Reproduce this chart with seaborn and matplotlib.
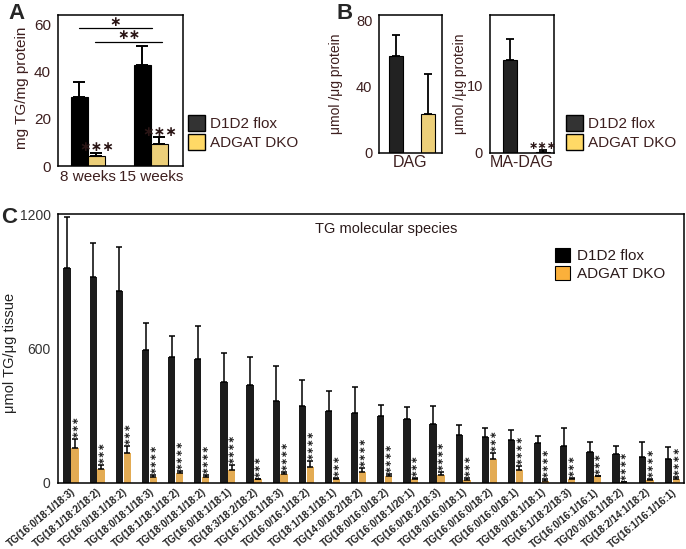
import numpy as np
import pandas as pd
import seaborn as sns
import matplotlib.pyplot as plt
from matplotlib.patches import Patch

sns.set_theme(style="white")
plt.rcParams['font.family'] = ['Liberation Sans', 'DejaVu Sans']

# ---- data ----
groups = ['D1D2 flox', 'ADGAT DKO']

# panel A: TG content
weeks = ['8 weeks', '15 weeks']
tg_flox = [29.2, 42.6]
tg_flox_err = [6.1, 8.2]
tg_dko = [4.3, 9.2]
tg_dko_err = [1.3, 2.9]

# panel B
dag_vals = [58.7, 23.7]
dag_err = [12.6, 23.9]
madag_vals = [13.75, 0.15]
madag_err = [3.15, 0.25]

# panel C: TG molecular species
species = ['TG(16:0/18:1/18:3)', 'TG(18:1/18:2/18:2)', 'TG(16:0/18:1/18:2)',
           'TG(18:0/18:1/18:3)', 'TG(18:1/18:1/18:2)', 'TG(18:0/18:1/18:2)',
           'TG(16:0/18:1/18:1)', 'TG(18:3/18:2/18:2)', 'TG(16:1/18:1/18:3)',
           'TG(16:0/16:1/18:2)', 'TG(18:1/18:1/18:1)', 'TG(14:0/18:2/18:2)',
           'TG(18:0/16:0/18:2)', 'TG(16:0/18:1/20:1)', 'TG(16:0/18:2/18:3)',
           'TG(18:0/16:0/18:1)', 'TG(16:0/16:0/18:2)', 'TG(16:0/16:0/18:1)',
           'TG(18:0/18:1/18:1)', 'TG(16:1/18:2/18:3)', 'TG(16:0/16:1/16:1)',
           'TG(20:0/18:1/18:2)', 'TG(18:2/14:1/18:2)', 'TG(16:1/16:1/16:1)']
species_flox = [960, 918, 857, 593, 562, 553, 450, 436, 367, 345, 321, 311,
                300, 284, 262, 214, 206, 191, 176, 164, 136, 129, 114, 105]
species_flox_err = [229, 154, 197, 121, 95, 149, 130, 128, 156, 115, 91, 115,
                    48, 54, 82, 43, 38, 45, 33, 81, 48, 35, 70, 54]
species_dko = [157, 61, 132, 27, 42, 27, 57, 15, 39, 72, 18, 49,
               30, 16, 36, 13, 107, 57, 9, 16, 31, 3, 12, 15]
species_dko_err = [37, 17, 32, 7, 12, 7, 21, 3, 10, 25, 4, 15,
                   9, 6, 10, 6, 25, 18, 6, 5, 0, 0, 6, 9]
species_stars = [3, 3, 3, 4, 4, 4, 4, 3, 4, 4, 3, 4,
                 4, 3, 4, 3, 3, 4, 4, 3, 3, 4, 4, 4]

txt = '#3d1f1f'
black_ab = '#000000'
yellow_ab = '#FFD966'
black_c = '#1c1c1c'
orange_c = '#FBB03B'
star_font = ['DejaVu Sans']

fig = plt.figure(figsize=(6.86, 5.49), dpi=100)


def style_box(ax):
    for s in ax.spines.values():
        s.set_visible(True)
        s.set_color('black')
        s.set_linewidth(1.1)
    ax.tick_params(axis='y', direction='out', length=3, width=1, colors='black',
                   labelcolor=txt, pad=2)
    ax.tick_params(axis='x', length=0, labelcolor=txt, pad=3)


def add_err(ax, cont, errs, capsize, lw):
    xs = [p.get_x() + p.get_width() / 2 for p in cont]
    hs = [p.get_height() for p in cont]
    ax.errorbar(xs, hs, yerr=[np.zeros(len(errs)), errs], fmt='none',
                ecolor='black', elinewidth=lw, capsize=capsize, capthick=lw)
    return xs, hs


# ---- panel A ----
axA = fig.add_axes([0.0845, 0.6976, 0.1822, 0.2750])
dfA = pd.DataFrame({'week': weeks * 2,
                    'group': [groups[0]] * 2 + [groups[1]] * 2,
                    'value': tg_flox + tg_dko})
sns.barplot(data=dfA, x='week', y='value', hue='group', hue_order=groups,
            palette=[black_ab, yellow_ab], width=0.54, edgecolor='black',
            linewidth=0.8, errorbar=None, legend=False, ax=axA)
add_err(axA, axA.containers[0], tg_flox_err, 4.5, 1.4)
xs_d, hs_d = add_err(axA, axA.containers[1], tg_dko_err, 4.5, 1.4)
for x, h, e in zip(xs_d, hs_d, tg_dko_err):
    axA.annotate('∗∗∗', (x, h + e), xytext=(0, -1), textcoords='offset points',
                 ha='center', va='bottom', fontsize=10, color='#2a1515',
                 family=star_font, fontweight='bold')
axA.set_ylim(0, 63.8)
axA.set_xlim(-0.476, 1.51)
axA.set_yticks([0, 20, 40, 60])
axA.set_xlabel('')
axA.set_ylabel('mg TG/mg protein', fontsize=11, color=txt)
axA.yaxis.set_label_coords(-0.23, 0.52)
style_box(axA)
axA.tick_params(labelsize=11)
# significance lines
axA.plot([-0.14, 1.02], [58.2, 58.2], color='black', lw=0.9)
axA.text(0.44, 61.0, '∗', ha='center', va='center', fontsize=10,
         color='#2a1515', family=star_font, fontweight='bold')
axA.plot([0.11, 1.18], [52.3, 52.3], color='black', lw=0.9)
axA.text(0.645, 55.2, '∗∗', ha='center', va='center', fontsize=10,
         color='#2a1515', family=star_font, fontweight='bold')

fig.text(0.012, 0.995, 'A', fontsize=16, fontweight='bold', va='top')

handles_ab = [Patch(facecolor='#333333', edgecolor='black', linewidth=1),
              Patch(facecolor=yellow_ab, edgecolor='black', linewidth=1)]
fig.legend(handles_ab, groups, loc='upper left',
           bbox_to_anchor=(188 / 686, 1 - 115 / 549), frameon=False,
           fontsize=11, handlelength=1.1, handleheight=1.25,
           handletextpad=0.35, labelspacing=0.15, borderpad=0,
           borderaxespad=0, labelcolor=txt)

# ---- panel B ----
axB1 = fig.add_axes([0.5529, 0.7219, 0.0910, 0.2508])
sns.barplot(x=groups, y=dag_vals, hue=groups, palette=['#222222', yellow_ab],
            width=0.44, edgecolor='black', linewidth=0.8, errorbar=None,
            legend=False, ax=axB1)
for cont, e in zip(axB1.containers, dag_err):
    add_err(axB1, cont, [e], 3, 1.3)
axB1.set_ylim(0, 83.5)
axB1.set_xlim(-0.52, 1.43)
axB1.set_yticks([0, 20, 40, 60, 80])
axB1.set_yticklabels(['0', '', '40', '', '80'])
axB1.set_xticks([])
axB1.set_xlabel('DAG', fontsize=11.5, color=txt, labelpad=2)
axB1.set_ylabel('μmol /μg protein', fontsize=10, color=txt)
axB1.yaxis.set_label_coords(-0.58, 0.5)
style_box(axB1)
axB1.tick_params(labelsize=10.5)

axB2 = fig.add_axes([0.7143, 0.7219, 0.0937, 0.2508])
sns.barplot(x=groups, y=madag_vals, hue=groups, palette=['#222222', yellow_ab],
            width=0.43, edgecolor='black', linewidth=0.8, errorbar=None,
            legend=False, ax=axB2)
for cont, e in zip(axB2.containers, madag_err):
    xs, hs = add_err(axB2, cont, [e], 3, 1.3)
axB2.annotate('∗∗∗', (xs[0], hs[0] + madag_err[1]), xytext=(0, -0.5),
              textcoords='offset points', ha='center', va='bottom',
              fontsize=8, color='#2a1515', family=star_font, fontweight='bold')
axB2.set_ylim(0, 20.5)
axB2.set_xlim(-0.615, 1.36)
axB2.set_yticks([0, 5, 10, 15])
axB2.set_yticklabels(['0', '', '10', ''])
axB2.set_xticks([])
axB2.set_xlabel('MA-DAG', fontsize=11.5, color=txt, labelpad=2)
axB2.set_ylabel('μmol /μg protein', fontsize=10, color=txt)
axB2.yaxis.set_label_coords(-0.36, 0.5)
style_box(axB2)
axB2.tick_params(labelsize=10.5)

fig.text(0.49, 0.995, 'B', fontsize=16, fontweight='bold', va='top')
fig.legend(handles_ab, groups, loc='upper left',
           bbox_to_anchor=(566 / 686, 1 - 115 / 549), frameon=False,
           fontsize=11, handlelength=1.1, handleheight=1.25,
           handletextpad=0.35, labelspacing=0.15, borderpad=0,
           borderaxespad=0, labelcolor=txt)

# ---- panel C ----
axC = fig.add_axes([0.0841, 0.1208, 0.9130, 0.4889])
dfC = pd.DataFrame({'species': species * 2,
                    'group': [groups[0]] * len(species) + [groups[1]] * len(species),
                    'value': species_flox + species_dko})
sns.barplot(data=dfC, x='species', y='value', hue='group', hue_order=groups,
            palette=[black_c, orange_c], width=0.6, gap=0.08, linewidth=0,
            errorbar=None, legend=False, ax=axC)
add_err(axC, axC.containers[0], species_flox_err, 2.2, 1.1)
xs_c, hs_c = add_err(axC, axC.containers[1], species_dko_err, 2.2, 1.1)
for x, h, e, n in zip(xs_c, hs_c, species_dko_err, species_stars):
    axC.annotate('∗' * n, (x, h + e), xytext=(0, 1.5), textcoords='offset points',
                 rotation=90, ha='center', va='bottom', fontsize=6.5,
                 color='#222222', family=star_font, fontweight='bold')
axC.set_ylim(0, 1200)
axC.set_xlim(-0.51, 23.45)
axC.set_yticks(np.arange(0, 1201, 200))
axC.set_yticklabels(['0', '', '', '600', '', '', '1200'])
axC.set_xlabel('')
axC.set_ylabel('μmol TG/μg tissue', fontsize=10.5, color='#222222')
axC.yaxis.set_label_coords(-0.065, 0.483)
style_box(axC)
axC.tick_params(axis='y', labelsize=10, labelcolor='#333333')
axC.set_xticks(range(len(species)))
axC.set_xticklabels(species, rotation=40, ha='right', rotation_mode='anchor',
                    fontsize=7.1, fontweight='bold', color='#222222')
axC.tick_params(axis='x', pad=3)
axC.text(0.524, 0.945, 'TG molecular species', transform=axC.transAxes,
         ha='center', va='center', fontsize=10.5, color='#2a1a1a')

handles_c = [Patch(facecolor='#000000', edgecolor='black', linewidth=0.8),
             Patch(facecolor=orange_c, edgecolor='black', linewidth=0.8)]
fig.legend(handles_c, groups, loc='upper left',
           bbox_to_anchor=(555 / 686, 1 - 248 / 549), frameon=False,
           fontsize=11, handlelength=0.95, handleheight=1.0,
           handletextpad=0.5, labelspacing=0.2, borderpad=0,
           borderaxespad=0, labelcolor='#2a1a1a')

fig.text(0.002, 0.623, 'C', fontsize=16, fontweight='bold', va='top')

fig.savefig('out.png', dpi=100)
